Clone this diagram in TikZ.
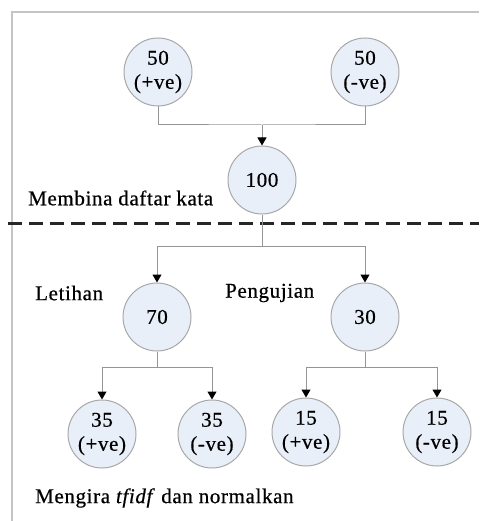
\documentclass[tikz,border=0pt]{standalone}
\usepackage{fontspec}
\setmainfont{Liberation Serif}[LetterSpace=3,FakeBold=0.6]
\usetikzlibrary{arrows.meta}
\definecolor{circgray}{HTML}{A8A8A8}
\definecolor{circfill}{HTML}{E9EFF8}
\definecolor{linegray}{HTML}{959595}
\definecolor{framegray}{HTML}{C4C4C4}
\definecolor{dashdark}{HTML}{262626}
\begin{document}
\begin{tikzpicture}[x=1pt,y=-1pt,
  circ/.style={circle,draw=circgray,fill=circfill,line width=1pt,minimum size=68pt,inner sep=0pt,align=center,font=\fontsize{21}{24}\selectfont},
  lbl/.style={font=\fontsize{21}{24}\selectfont,inner sep=0pt,anchor=west},
  conn/.style={draw=linegray,line width=1pt},
  arr/.style={conn,-{Triangle[width=9pt,length=8pt,color=black]}}]
\useasboundingbox (0,0) rectangle (479,521);
% frame
\draw[framegray,line width=2pt] (479,12.5) -- (12,12.5) -- (12,521);
% dashed separator
\draw[dashdark,line width=3pt,dash pattern=on 14pt off 7pt] (8,223.5) -- (479,223.5);
% nodes
\node[circ] (p50) at (158,72) {50\\(+ve)};
\node[circ] (n50) at (365,72) {50\\(-ve)};
\node[circ] (c100) at (262,180) {100};
\node[circ] (c70) at (157,317) {70};
\node[circ] (c30) at (365,317) {30};
\node[circ] (a35) at (102,434) {35\\(+ve)};
\node[circ] (b35) at (212,434) {35\\(-ve)};
\node[circ] (a15) at (306,432) {15\\(+ve)};
\node[circ] (b15) at (437,432) {15\\(-ve)};
% junctions
\coordinate (j1) at (262,125);
\coordinate (j2) at (262,246);
\coordinate (j3) at (157,367);
\coordinate (j4) at (365,367);
% connectors
\draw[conn] (p50.south) |- (j1) -| (n50.south);
\draw[arr] (j1) -- (c100.north);
\draw[conn] (c100.south) -- (j2);
\draw[arr] (j2) -| (c70.north);
\draw[arr] (j2) -| (c30.north);
\draw[conn] (c70.south) -- (j3);
\draw[arr] (j3) -| (a35.north);
\draw[arr] (j3) -| (b35.north);
\draw[conn] (c30.south) -- (j4);
\draw[arr] (j4) -| (a15.north);
\draw[arr] (j4) -| (b15.north);
% labels
\node[lbl] (lmem) at (28,198) {Membina daftar kata};
\node[lbl] (llat) at (35,293) {Letihan};
\node[lbl] (lpen) at (225,293) {Pengujian};
\node[lbl] (lmen) at (35,498) {Mengira \textit{tfidf} dan normalkan};
\end{tikzpicture}
\end{document}
